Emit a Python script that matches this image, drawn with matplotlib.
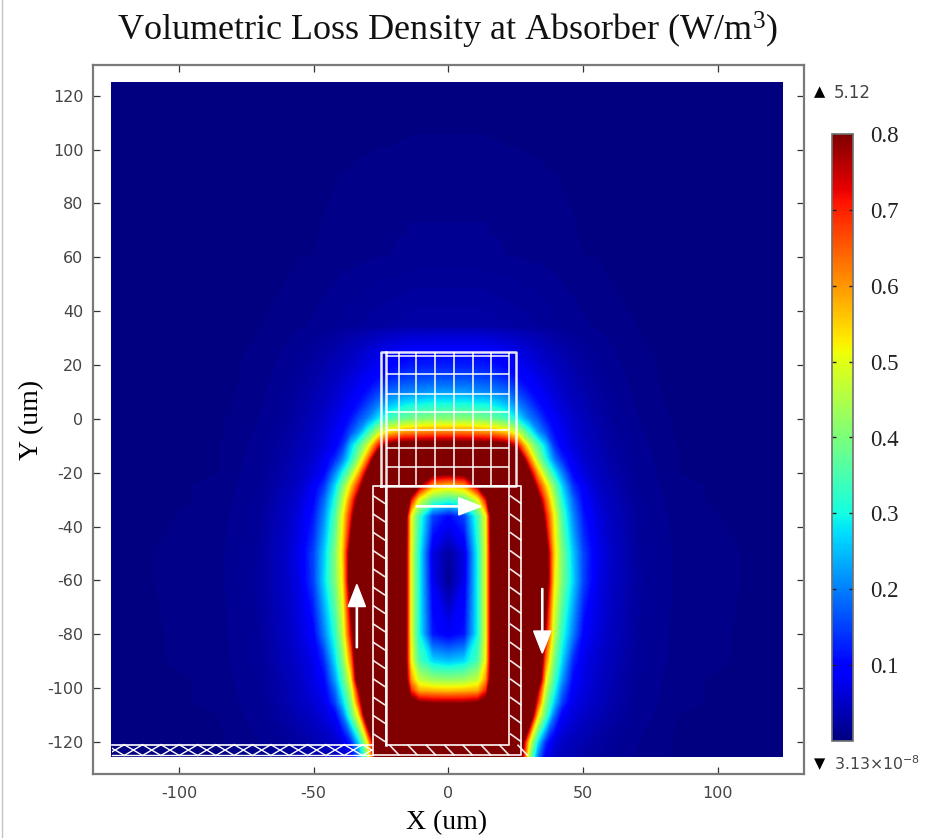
import matplotlib
matplotlib.use("Agg")
import matplotlib.pyplot as plt
import numpy as np
from matplotlib.cm import ScalarMappable
from matplotlib.colors import Normalize
from matplotlib.lines import Line2D
from matplotlib.patches import Rectangle

W, H = 932, 838

# loss density, right half only (the field is mirrored about x=0)
x_half = [0, 6, 11, 14, 16, 18, 22, 26, 30, 33, 36, 39, 42, 46, 50, 55, 60, 70, 85, 125]
y_rows = [125, 60, 34, 32, 25, 20, 15, 10, 5, 0, -5, -10, -15, -20, -25, -30, -36,
          -50, -60, -80, -90, -97, -101, -105, -110, -120, -125.4]
loss = [
    [.002, .002, .002, .002, .002, .002, .002, .002, .002, .002, .002, .002, .002, .002, .002, .002, .002, .002, .002, .002],
    [.012, .012, .012, .012, .011, .011, .01, .01, .009, .009, .008, .008, .007, .006, .005, .005, .004, .003, .002, .002],
    [.03, .03, .03, .029, .028, .027, .026, .024, .022, .02, .019, .017, .015, .013, .011, .009, .007, .005, .003, .002],
    [.05, .05, .049, .048, .047, .045, .042, .038, .034, .03, .027, .024, .02, .017, .014, .011, .008, .005, .003, .002],
    [.095, .095, .093, .09, .088, .085, .078, .068, .058, .05, .043, .037, .032, .026, .02, .015, .011, .006, .003, .002],
    [.12, .12, .118, .115, .11, .105, .095, .083, .07, .06, .052, .045, .038, .03, .024, .017, .012, .007, .003, .002],
    [.16, .16, .155, .15, .148, .14, .125, .105, .088, .075, .063, .053, .045, .035, .028, .02, .014, .007, .003, .002],
    [.22, .22, .21, .205, .2, .195, .18, .145, .11, .09, .075, .062, .052, .04, .032, .023, .016, .008, .003, .002],
    [.31, .31, .30, .30, .29, .28, .25, .2, .15, .115, .09, .073, .06, .046, .036, .026, .018, .009, .003, .002],
    [.41, .41, .40, .39, .38, .37, .34, .28, .2, .16, .115, .088, .07, .053, .041, .03, .02, .01, .004, .002],
    [.62, .62, .61, .6, .6, .58, .54, .46, .32, .22, .16, .105, .082, .06, .046, .033, .023, .011, .004, .002],
    [.86, .86, .86, .86, .86, .86, .83, .7, .47, .36, .26, .14, .088, .065, .05, .037, .026, .012, .005, .002],
    [1, 1, 1, 1, 1, 1, 1, .95, .62, .44, .31, .2, .13, .08, .056, .041, .029, .013, .005, .002],
    [.82, .84, 1, 1, 1, 1, 1, 1, .8, .58, .42, .3, .2, .095, .065, .046, .033, .014, .005, .002],
    [.54, .58, .78, 1, 1, 1, 1, 1, .98, .72, .55, .4, .27, .14, .085, .052, .037, .015, .006, .002],
    [.33, .37, .5, .72, 1, 1, 1, 1, 1, .86, .64, .46, .31, .18, .095, .06, .042, .017, .006, .002],
    [.10, .15, .34, .51, .85, 1, 1, 1, 1, 1, .72, .52, .35, .21, .115, .068, .046, .019, .007, .002],
    [.02, .07, .30, .5, .82, 1, 1, 1, 1, 1, .88, .56, .4, .26, .15, .08, .052, .021, .008, .003],
    [.012, .08, .30, .5, .82, 1, 1, 1, 1, 1, .9, .54, .4, .27, .15, .075, .05, .022, .008, .003],
    [.085, .115, .3, .5, .82, 1, 1, 1, 1, 1, .74, .47, .32, .2, .095, .065, .045, .02, .007, .003],
    [.25, .27, .35, .52, .82, 1, 1, 1, 1, 1, .62, .4, .27, .13, .075, .055, .04, .018, .007, .003],
    [.42, .43, .47, .6, .85, 1, 1, 1, 1, .95, .52, .35, .22, .1, .07, .05, .036, .016, .006, .002],
    [.56, .57, .58, .7, .95, 1, 1, 1, 1, .78, .46, .31, .18, .085, .065, .048, .034, .015, .006, .002],
    [.76, .76, .78, .85, 1, 1, 1, 1, 1, .7, .41, .27, .15, .075, .06, .045, .032, .014, .006, .002],
    [1, 1, 1, 1, 1, 1, 1, 1, .95, .55, .36, .19, .09, .065, .05, .038, .028, .013, .005, .002],
    [1, 1, 1, 1, 1, 1, 1, 1, .51, .28, .13, .07, .05, .04, .032, .025, .018, .01, .004, .002],
    [1, 1, 1, 1, 1, 1, 1, .95, .42, .2, .08, .055, .042, .034, .028, .022, .016, .009, .004, .002],
]

x_ticks = [-100, -50, 0, 50, 100]
y_ticks = [-120, -100, -80, -60, -40, -20, 0, 20, 40, 60, 80, 100, 120]
cbar_ticks = [0.1, 0.2, 0.3, 0.4, 0.5, 0.6, 0.7, 0.8]

# winding and core outlines, um
mesh_vlines = [-18.5, -12, -5, 2, 9, 15.6]
mesh_hlines = [23.4, 16.7, 9.4, 2.6, -4, -11, -17.8]
coil_hatch_y = np.arange(-28.5, -118, -6.8)
coil_hatch_x = np.arange(-22, 27, 6.8)
port_x = np.arange(-127.1, -28, 6.8)

plt.rcParams["mathtext.default"] = "regular"
plt.rcParams["axes.unicode_minus"] = False
SERIF = "Liberation Serif"
GREY = "#444444"

fig = plt.figure(figsize=(W / 100, H / 100), dpi=100)
ax = fig.add_axes([93 / W, 1 - 773.5 / H, (804.5 - 93) / W, (773.5 - 65) / H])

x_full = np.r_[-np.array(x_half[:0:-1]), x_half]
x_full[-1] = 124  # the image stops a little short on the right
z_half = np.array(loss)
z_full = np.hstack([z_half[:, :0:-1], z_half])
levels = np.linspace(0, 0.8, 161)
ax.contourf(x_full, y_rows, z_full, levels=levels, cmap="jet", extend="both",
            antialiased=False)

ax.set_xlim(-131.9, 132.1)
ax.set_ylim(-131.7, 131.4)
ax.set_xticks(x_ticks)
ax.set_yticks(y_ticks)
ax.tick_params(direction="in", length=5, width=0.9, color="#333333", top=True, right=True,
               labelsize=11.5, labelcolor=GREY, pad=7)
ax.tick_params(axis="x", pad=9)
for s in ax.spines.values():
    s.set_color("#7a7a7a")
    s.set_linewidth(1.6)

wire = dict(color="white", lw=1.2, alpha=0.9, solid_capstyle="butt")


def box(x0, x1, y0, y1, lw=1.6):
    ax.plot([x0, x1, x1, x0, x0], [y0, y0, y1, y1, y0], color="white", lw=lw, alpha=0.9)


# core mesh
box(-25.2, 24.9, -25, 25, lw=1.8)
ax.plot([-23, -23], [-121, 25], color="white", lw=1.8, alpha=0.9)
ax.plot([22.5, 22.5], [-25, 25], **wire)
for vx in mesh_vlines:
    ax.plot([vx, vx], [-25, 25], **wire)
for hy in mesh_hlines:
    ax.plot([-23, 22.5], [hy, hy], **wire)

# coil
box(-28, 27, -125, -25, lw=1.3)
box(-23, 22.5, -121, -25, lw=1.3)
for hy in coil_hatch_y:
    ax.plot([-28, -23.5], [hy, hy - 3], **wire)
    ax.plot([22.8, 27], [hy, hy - 3], **wire)
for hx in coil_hatch_x:
    ax.plot([hx, hx + 3.8], [-121, -125], **wire)

# port with crossed hatch
port_clip = Rectangle((-125, -126), 97, 6, transform=ax.transData)
ax.plot([-125, -28], [-121, -121], color="white", lw=1.2)
ax.plot([-125, -28], [-125, -125], color="white", lw=1)
for px in port_x:
    for y0, y1 in [(-121, -125), (-125, -121)]:
        stroke, = ax.plot([px, px + 6.8], [y0, y1], color="white", lw=1)
        stroke.set_clip_path(port_clip)

# current arrows
arrow = dict(width=0.45, head_width=6.4, head_length=8.2, length_includes_head=True,
             color="white", zorder=5)
ax.arrow(-34, -85, 0, 23.5, **arrow)
ax.arrow(34.8, -63, 0, -24, **arrow)
ax.arrow(-12, -32.5, 24, 0, **arrow)

# colour bar
cax = fig.add_axes([832 / W, 1 - 741 / H, 21 / W, (741 - 134) / H])
cb = fig.colorbar(ScalarMappable(Normalize(0, 0.8), "jet"), cax=cax)
cb.set_ticks(cbar_ticks)
cb.outline.set_edgecolor("#707070")
cb.outline.set_linewidth(1.2)
cax.tick_params(axis="y", direction="in", length=3, width=1.0, color="#222222", left=True,
                right=True, pad=12)
for lab in cax.get_yticklabels():
    lab.set_family(SERIF)
    lab.set_fontsize(16.5)
    lab.set_color("#222222")

fig.text(448 / W, 1 - 30 / H, "Volumetric Loss Density at Absorber (W/m$^3$)", family=SERIF,
         fontsize=26, ha="center", va="center", color="#111111")
fig.text(447 / W, 1 - 823 / H, "X (um)", family=SERIF, fontsize=20, ha="center", va="center")
fig.text(32 / W, 1 - 420 / H, "Y (um)", family=SERIF, fontsize=20, ha="center", va="center",
         rotation=90)
fig.text(814 / W, 1 - 92 / H, "\u25b2", fontsize=10.5, color="black", va="center")
fig.text(834 / W, 1 - 93 / H, "5.12", fontsize=12, color=GREY, va="center")
fig.text(814 / W, 1 - 764 / H, "\u25bc", fontsize=10.5, color="black", va="center")
fig.text(834 / W, 1 - 764 / H, "3.13\u00d710$^{-8}$", fontsize=11.3, color=GREY, va="center")

# page edge on the left of the screenshot
fig.add_artist(Line2D([1.5 / W, 1.5 / W], [0, 1], color="#c4c4c4", lw=1))

fig.savefig("out.png", dpi=100)
